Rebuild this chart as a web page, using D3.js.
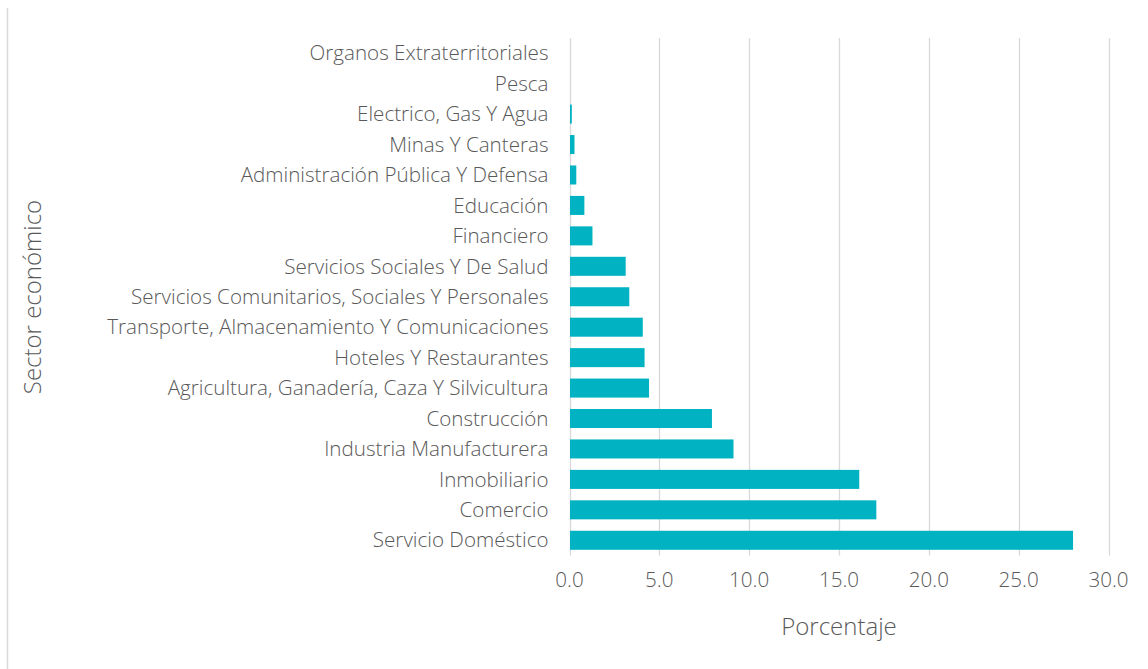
<!DOCTYPE html>
<html><head><meta charset="utf-8">
<script src="https://cdn.jsdelivr.net/npm/d3@7"></script>
<style>body{margin:0;background:#fff;} text{font-family:"Open Sans", Lato, sans-serif;font-weight:300;}</style>
</head><body><svg id="c" width="1148" height="669"></svg>
<script>
const categories = ["Organos Extraterritoriales","Pesca","Electrico, Gas Y Agua","Minas Y Canteras","Administración Pública Y Defensa","Educación","Financiero","Servicios Sociales Y De Salud","Servicios Comunitarios, Sociales Y Personales","Transporte, Almacenamiento Y Comunicaciones","Hoteles Y Restaurantes","Agricultura, Ganadería, Caza Y Silvicultura","Construcción","Industria Manufacturera","Inmobiliario","Comercio","Servicio Doméstico"];
const values = [0.0,0.0,0.1,0.25,0.35,0.8,1.25,3.1,3.3,4.05,4.15,4.4,7.9,9.1,16.1,17.05,28.0];
const ticks = [0,5,10,15,20,25,30];
const xTitle = "Porcentaje";
const yTitle = "Sector económico";

const svg = d3.select("#c");
const m = {left:569.5, right:1108.5, top:38, bottom:555.5};
const x = d3.scaleLinear().domain([0,30]).range([m.left,m.right]);
const y = d3.scaleBand().domain(categories).range([m.top,m.bottom]).paddingInner(0.375).paddingOuter(0.1875);

svg.append("line").attr("x1",7.5).attr("x2",7.5).attr("y1",8).attr("y2",669).attr("stroke","#d9d9d9").attr("stroke-width",1.5);

svg.append("g").selectAll("line").data(ticks).join("line")
  .attr("x1",d=>Math.round(x(d))+0.5).attr("x2",d=>Math.round(x(d))+0.5)
  .attr("y1",m.top).attr("y2",m.bottom).attr("stroke","#d9d9d9").attr("stroke-width",1.3);

svg.append("g").selectAll("rect").data(categories).join("rect")
  .attr("x",x(0)+0.5).attr("y",d=>y(d))
  .attr("width",(d,i)=>Math.max(0,x(values[i])-x(0)))
  .attr("height",y.bandwidth()).attr("fill","#00B2C2");

svg.append("g").selectAll("text").data(categories).join("text")
  .attr("x",m.left-21).attr("y",d=>y(d)+y.bandwidth()/2).attr("dy","0.35em")
  .attr("text-anchor","end").attr("fill","#595959").style("font-size","20.6px").text(d=>d);

svg.append("g").selectAll("text").data(ticks).join("text")
  .attr("x",d=>x(d)).attr("y",580).attr("dy","0.35em").attr("text-anchor","middle")
  .attr("fill","#595959").style("font-size","20.6px").text(d=>d3.format(".1f")(d));

svg.append("text").attr("x",(m.left+m.right)/2).attr("y",627).attr("dy","0.35em").attr("text-anchor","middle")
  .attr("fill","#595959").style("font-size","24px").text(xTitle);

svg.append("text").attr("transform","translate(33,297) rotate(-90)").attr("dy","0.35em").attr("text-anchor","middle")
  .attr("fill","#595959").style("font-size","24px").text(yTitle);
</script></body></html>
